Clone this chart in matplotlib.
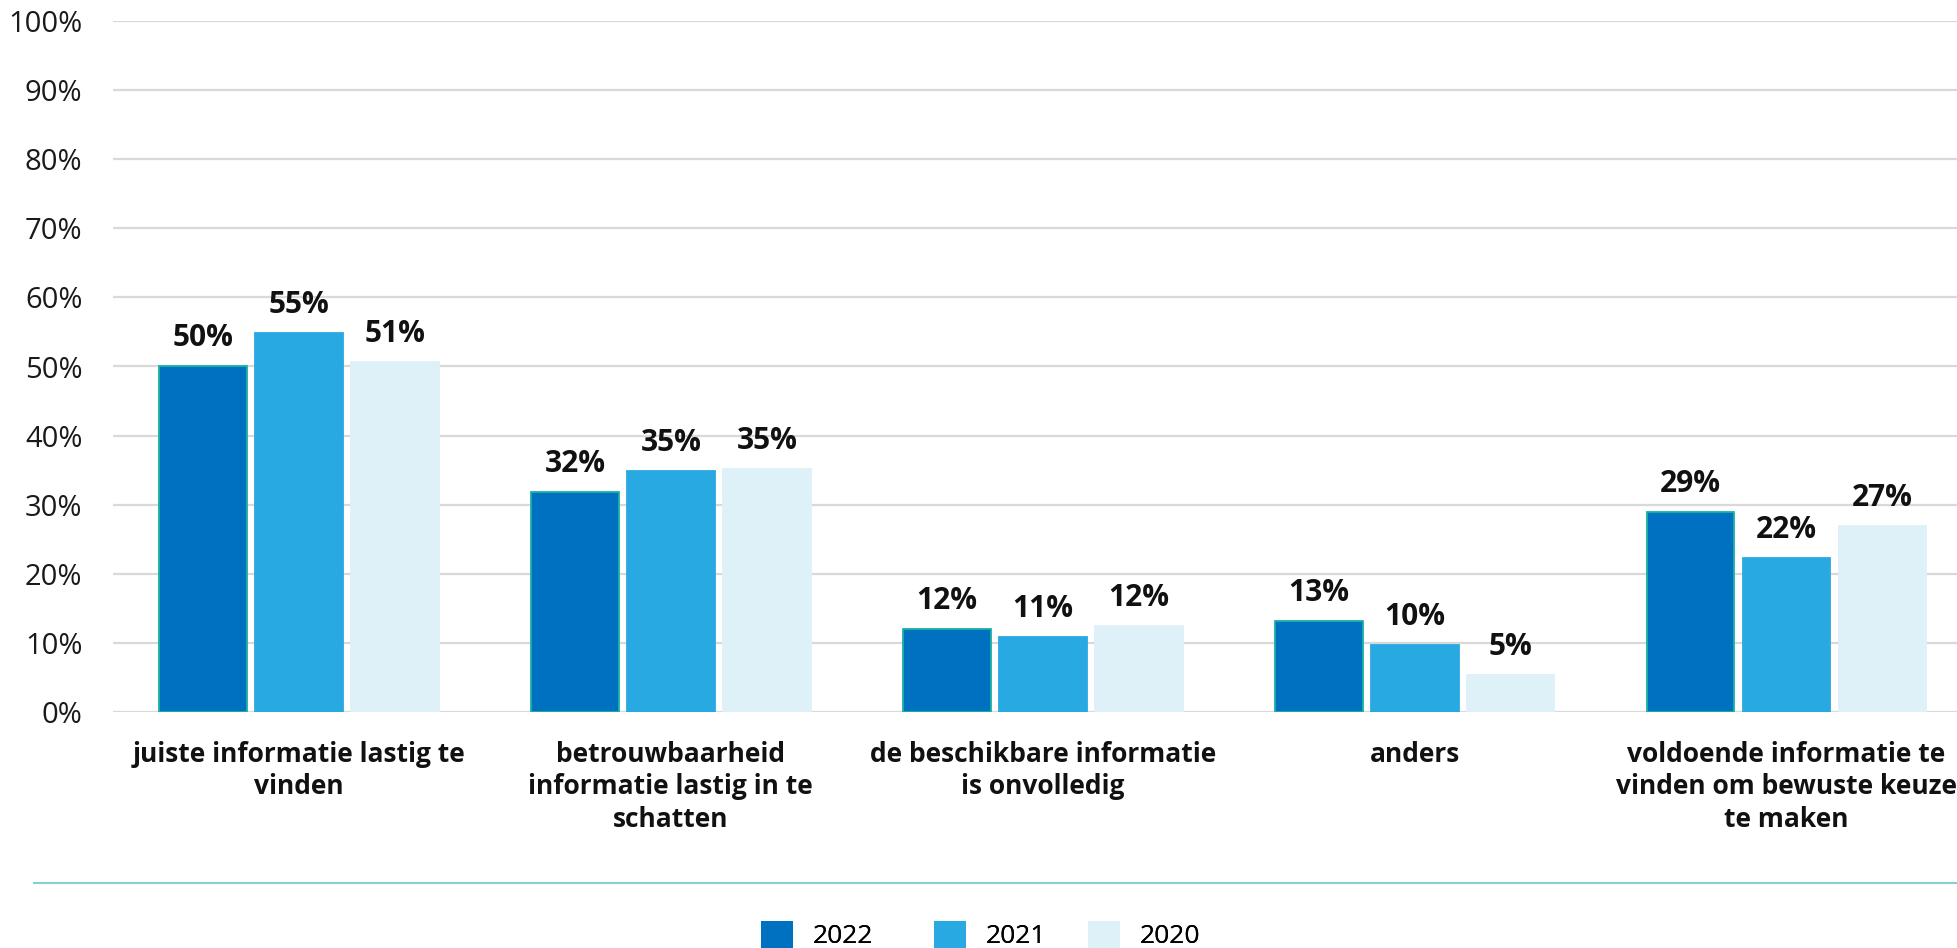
import matplotlib
matplotlib.use('Agg')
import matplotlib.pyplot as plt
import numpy as np
from matplotlib.lines import Line2D
from matplotlib.patches import Patch

plt.rcParams['font.family'] = ['Open Sans', 'DejaVu Sans']

categories = ['juiste informatie lastig te\nvinden',
              'betrouwbaarheid\ninformatie lastig in te\nschatten',
              'de beschikbare informatie\nis onvolledig',
              'anders',
              'voldoende informatie te\nvinden om bewuste keuze\nte maken']
years = ['2022', '2021', '2020']
v2022 = [50, 31.8, 12.0, 13.1, 28.9]
v2021 = [54.8, 34.9, 10.9, 9.7, 22.3]
v2020 = [50.6, 35.1, 12.4, 5.4, 26.9]
colors = ['#0070c0', '#29a9e1', '#def0f8']
edges = ['#19b2a6', '#29a9e1', '#def0f8']

fig = plt.figure(figsize=(19.57, 9.48), dpi=100)
ax = fig.add_axes([113 / 1957, 236 / 948, 1859.5 / 1957, 691 / 948])

x = np.arange(len(categories))
step = 0.258
width = 0.236
for i, vals in enumerate([v2022, v2021, v2020]):
    pos = x + (i - 1) * step
    ax.bar(pos, vals, width, color=colors[i], edgecolor=edges[i],
           linewidth=1.3, zorder=3)
    for px, v in zip(pos, vals):
        ax.annotate(f'{v:.0f}%', (px, v), xytext=(0, 14.5), textcoords='offset points',
                    ha='center', va='baseline', fontsize=21.5, fontweight='bold',
                    color='#111111')

ax.set_xlim(-0.5, 4.5)
ax.set_ylim(0, 100)
ax.set_yticks(np.arange(0, 101, 10))
ax.set_yticklabels([f'{t}%' for t in range(0, 101, 10)])
ax.set_xticks(x)
ax.set_xticklabels(categories, fontweight='bold', fontsize=19, linespacing=1.25)
ax.tick_params(axis='y', length=0, pad=22, labelsize=21, labelcolor='#1a1a1a')
ax.tick_params(axis='x', length=0, pad=21, labelcolor='#111111')
ax.grid(axis='y', color='#d9d9d9', linewidth=1.6, zorder=0)
for s in ax.spines.values():
    s.set_visible(False)

fig.add_artist(Line2D([34 / 1957, 1], [65 / 948, 65 / 948], color='#88d0cf', linewidth=1.5))

# legend entries placed one by one (uneven spacing as in the original)
leg_x = [761, 934, 1088]
for i in range(3):
    lg = fig.legend(handles=[Patch(facecolor=colors[i], edgecolor='none')], labels=[years[i]],
                    loc='center left', bbox_to_anchor=(leg_x[i] / 1957, 13 / 948),
                    frameon=False, fontsize=19, handlelength=1.2, handleheight=1.25,
                    handletextpad=0.75, borderpad=0, borderaxespad=0)
    fig.add_artist(lg)

fig.savefig('out.png', dpi=100)
